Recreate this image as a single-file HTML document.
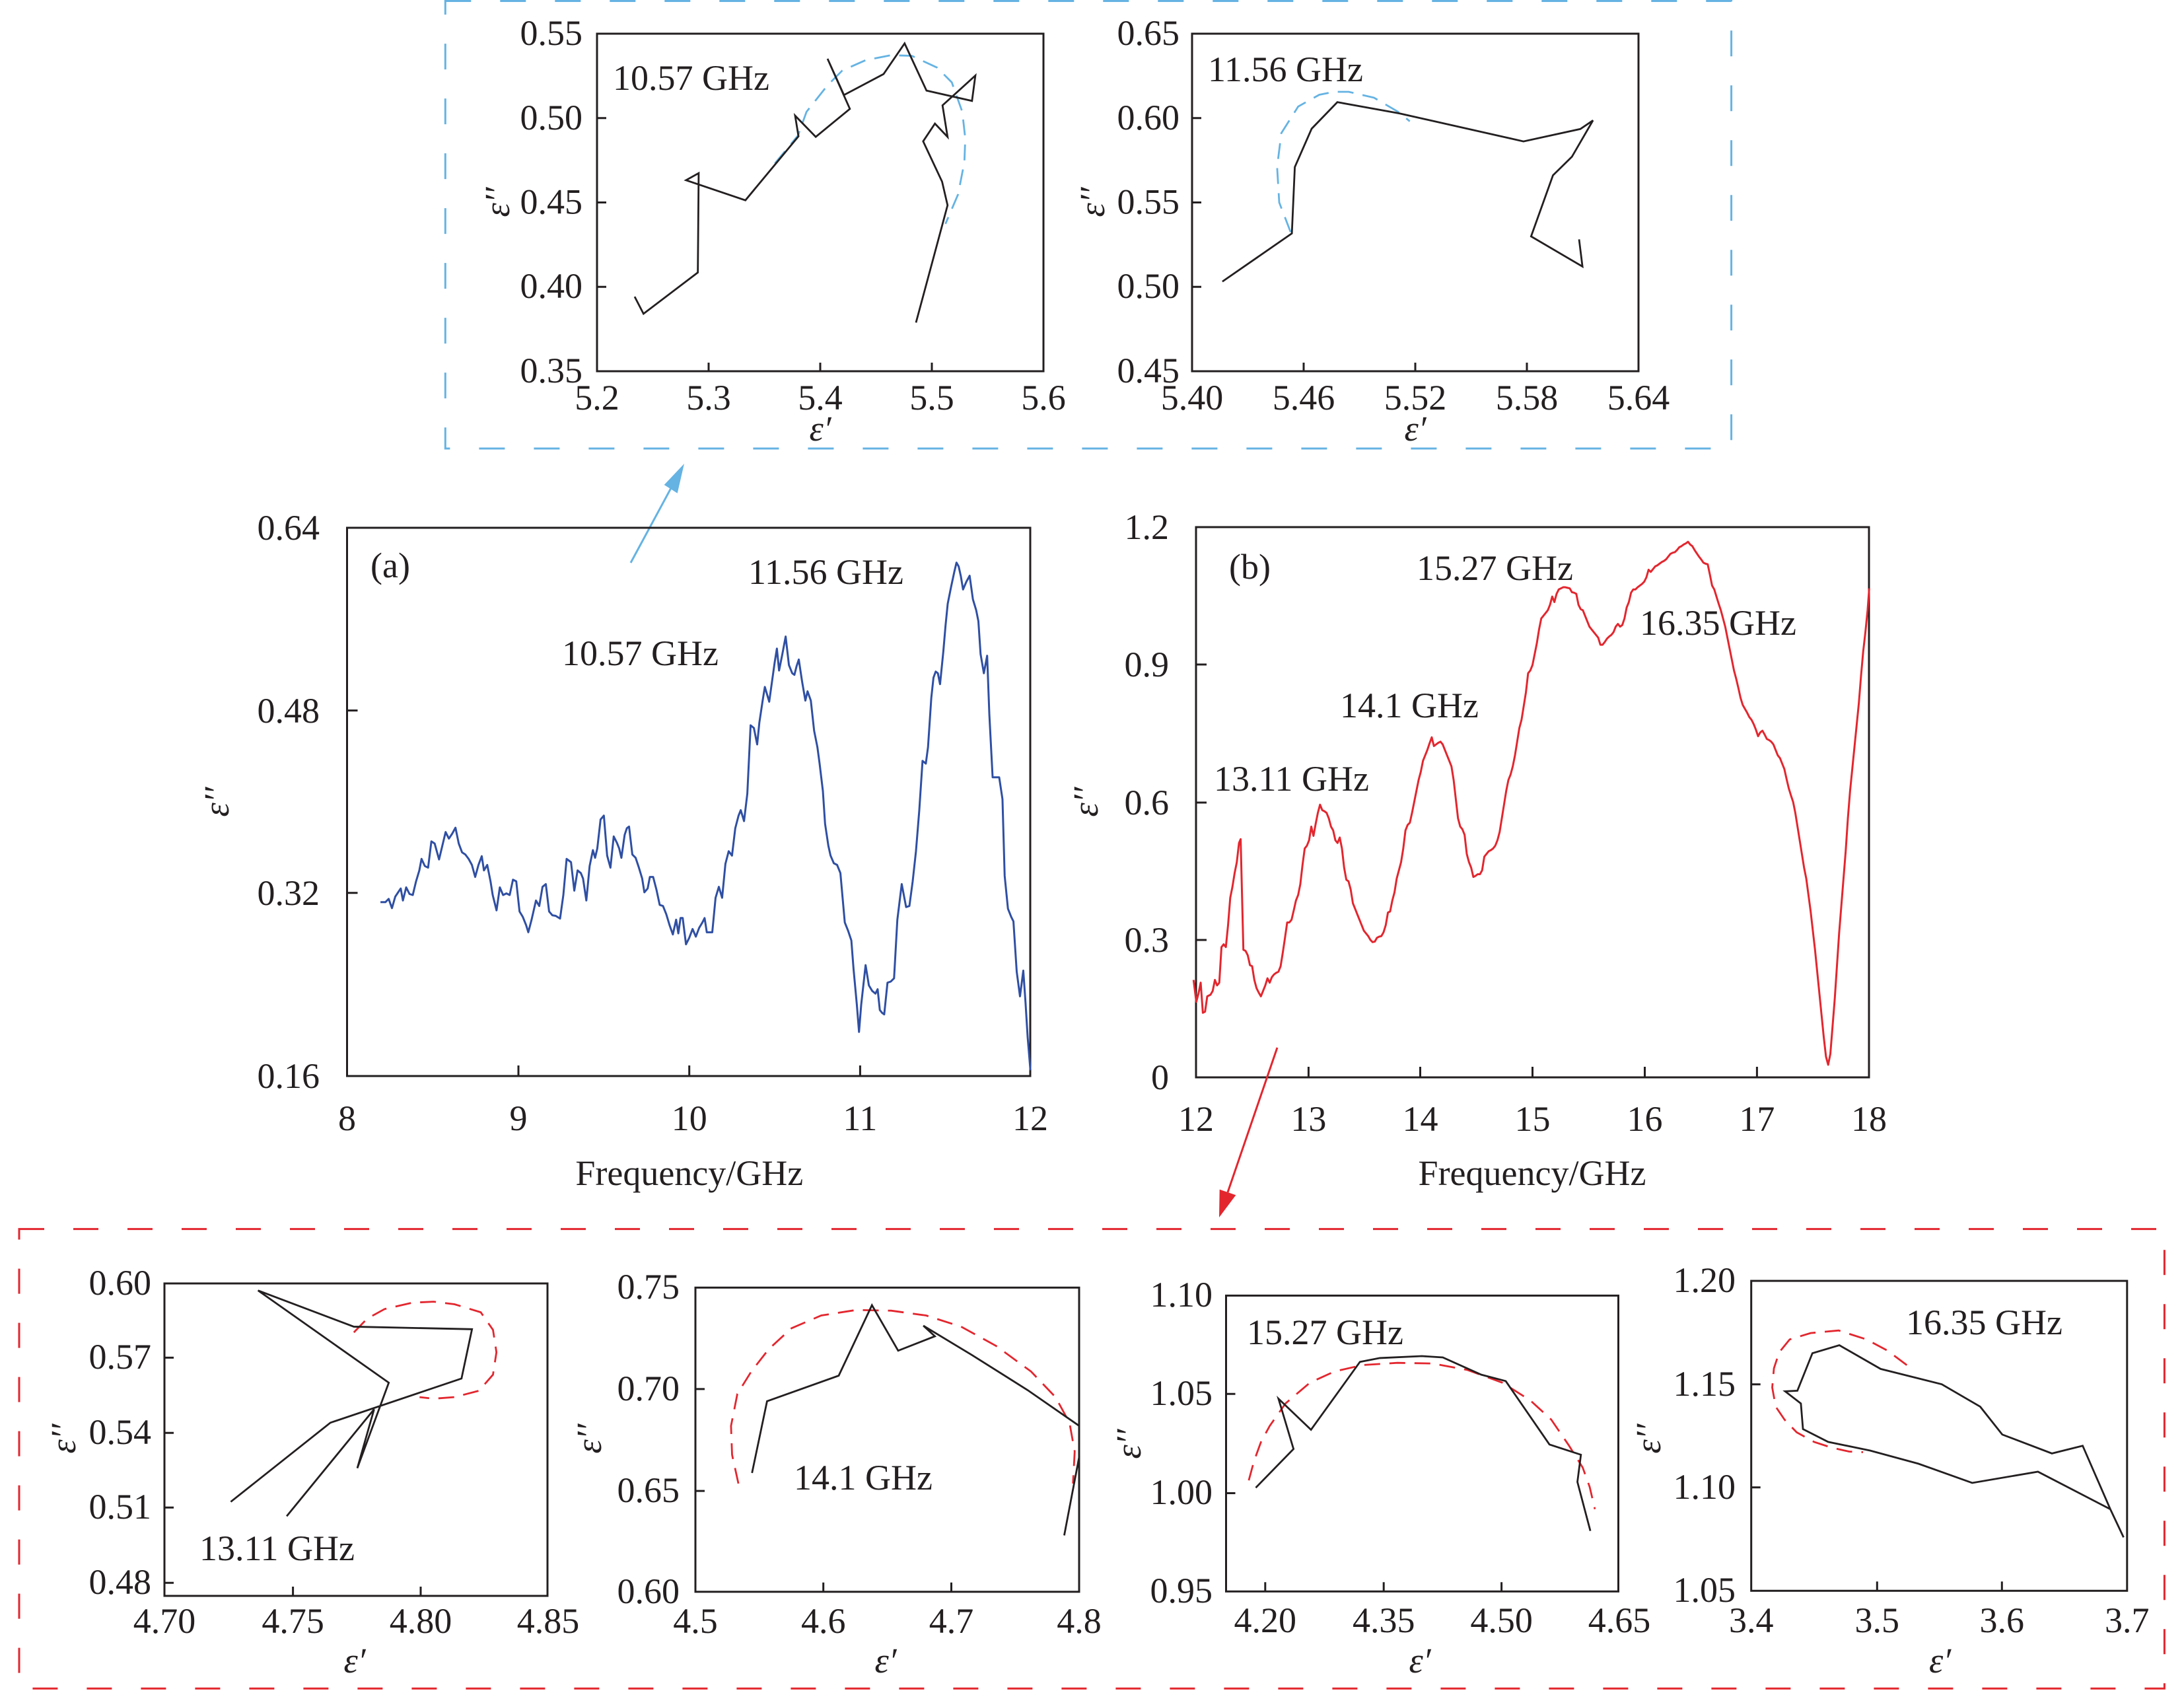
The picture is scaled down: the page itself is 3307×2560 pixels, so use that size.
<!DOCTYPE html>
<html>
<head>
<meta charset="utf-8">
<style>
html,body{margin:0;padding:0;background:#fff;}
svg{display:block;}
text{font-family:"Liberation Serif","Times New Roman",serif;font-size:54px;fill:#231f20;}
.it{font-style:italic;}
.fr{fill:none;stroke:#231f20;stroke-width:3;}
.tk{fill:none;stroke:#231f20;stroke-width:3;}
.bl{fill:none;stroke:#231f20;stroke-width:2.8;stroke-linejoin:miter;}
</style>
</head>
<body>
<svg width="3307" height="2560" viewBox="0 0 3307 2560" xmlns="http://www.w3.org/2000/svg">
<rect x="0" y="0" width="3307" height="2560" fill="#fff"/>

<!-- Blue dashed box -->
<rect x="674.3" y="1.5" width="1947.3" height="677.5" fill="none" stroke="#65b3e3" stroke-width="3" stroke-dasharray="39 44"/>
<!-- Red dashed box -->
<rect x="29" y="1860.6" width="3248.4" height="695.6" fill="none" stroke="#e3262e" stroke-width="3" stroke-dasharray="38 44"/>

<!-- ============ A1 ============ -->
<rect class="fr" x="904" y="51" width="676" height="511"/>
<path class="tk" d="M904 178.75h14M904 306.5h14M904 434.25h14M1073 562v-13M1242 562v-13M1411 562v-13"/>
<g text-anchor="end">
<text x="882" y="68">0.55</text><text x="882" y="196">0.50</text><text x="882" y="323.5">0.45</text><text x="882" y="451">0.40</text><text x="882" y="579">0.35</text>
</g>
<g text-anchor="middle">
<text x="904" y="620">5.2</text><text x="1073" y="620">5.3</text><text x="1242" y="620">5.4</text><text x="1411" y="620">5.5</text><text x="1580" y="620">5.6</text>
<text class="it" x="1242" y="667">ε′</text>
<text class="it" transform="translate(771,306) rotate(-90)" x="0" y="0">ε′′</text>
</g>
<text x="928" y="136">10.57 GHz</text>
<polyline fill="none" stroke="#65b3e3" stroke-width="2.8" stroke-dasharray="24 14" points="1173.3,247.4 1208.4,205.0 1221.2,169.3 1253.1,129.1 1275.4,106.8 1310.5,91.2 1348.7,83.6 1380.6,84.5 1418.9,102.3 1441.2,124.7 1457.1,169.3 1461.6,209.5 1460.3,245.2 1450.7,294.3 1431.6,338.9"/>
<g transform="matrix(0.6377 0 0 0.4463 660 -0.3)">
<polyline class="bl" vector-effect="non-scaling-stroke" points="472,1007 493,1065 622,925 624,588 594,612 735,680 861,463 853,393 902,465 983,370 930,200 969,323 1063,252 1113,148 1165,308 1273,343 1281,257 1203,358 1215,465 1185,420 1157,480 1202,617 1215,697 1190,830 1140,1095"/>
</g>

<!-- ============ A2 ============ -->
<rect class="fr" x="1805" y="51" width="676" height="511"/>
<path class="tk" d="M1805 178.75h14M1805 306.5h14M1805 434.25h14M1974 562v-13M2143 562v-13M2312 562v-13"/>
<g text-anchor="end">
<text x="1786" y="68">0.65</text><text x="1786" y="196">0.60</text><text x="1786" y="323.5">0.55</text><text x="1786" y="451">0.50</text><text x="1786" y="579">0.45</text>
</g>
<g text-anchor="middle">
<text x="1805" y="620">5.40</text><text x="1974" y="620">5.46</text><text x="2143" y="620">5.52</text><text x="2312" y="620">5.58</text><text x="2481" y="620">5.64</text>
<text class="it" x="2143" y="667">ε′</text>
<text class="it" transform="translate(1672,306) rotate(-90)" x="0" y="0">ε′′</text>
</g>
<text x="1829" y="123">11.56 GHz</text>
<polyline fill="none" stroke="#65b3e3" stroke-width="2.8" stroke-dasharray="24 14" points="1954.2,351.2 1937.0,306.5 1933.8,252.9 1940.2,201.5 1965.7,161.3 1997.6,143.5 2019.9,139.0 2042.2,139.0 2080.5,147.9 2118.7,170.3 2134.7,183.7"/>
<g transform="matrix(0.6377 0 0 0.4467 1659.6 -1.7)">
<polyline class="bl" vector-effect="non-scaling-stroke" points="300,958 465,795 472,570 512,440 573,350 720,388 1015,483 1150,441 1180,412 1130,535 1085,598 1033,805 1155,907 1147,815"/>
</g>

<!-- Blue arrow -->
<line x1="955" y1="852" x2="1016" y2="739" stroke="#65b3e3" stroke-width="3"/>
<polygon points="1036,702 1005.7,734 1025.7,746.7" fill="#65b3e3"/>

<!-- ============ Main (a) ============ -->
<rect class="fr" x="525.5" y="799" width="1034.5" height="830"/>
<path class="tk" d="M525.5 1075.6h16M525.5 1351.7h16M785 1629v-16M1043.7 1629v-16M1302.4 1629v-16"/>
<g text-anchor="end">
<text x="484" y="817">0.64</text><text x="484" y="1094">0.48</text><text x="484" y="1370">0.32</text><text x="484" y="1647">0.16</text>
</g>
<g text-anchor="middle">
<text x="525.5" y="1711">8</text><text x="785" y="1711">9</text><text x="1043.7" y="1711">10</text><text x="1302.4" y="1711">11</text><text x="1560" y="1711">12</text>
<text x="1043.8" y="1794">Frequency/GHz</text>
<text class="it" transform="translate(346,1214) rotate(-90)" x="0" y="0">ε′′</text>
</g>
<text x="561" y="874">(a)</text>
<text x="1133" y="884">11.56 GHz</text>
<text x="851" y="1007">10.57 GHz</text>
<g transform="matrix(0.8291 0 0 0.8291 300 700)">
<polyline fill="none" stroke="#2f4fa3" stroke-width="3" vector-effect="non-scaling-stroke" stroke-linejoin="round" points="333,803 342,803 348,797 354,814 360,793 366,784 370,778 374,800 380,776 386,788 392,790 398,765 404,745 408,724 414,737 420,740 426,692 432,696 440,725 446,700 452,675 458,687 464,678 470,667 476,696 482,712 488,716 494,724 500,735 506,757 512,735 518,719 522,745 528,735 534,765 538,790 545,818 551,776 557,790 563,787 569,790 575,762 581,765 587,820 593,830 599,845 603,858 609,835 617,800 623,810 629,775 635,770 641,820 647,827 653,828 661,833 667,790 673,724 677,727 681,730 687,782 693,745 699,750 703,760 709,800 715,737 721,708 725,722 729,705 735,652 741,645 747,718 753,740 759,683 765,695 769,705 773,722 779,680 783,668 787,665 793,716 799,722 805,740 811,760 815,785 821,778 825,757 831,757 837,780 843,808 849,810 855,825 861,845 867,862 873,835 877,860 881,832 885,832 891,880 897,868 903,852 909,866 915,850 921,840 925,832 929,858 939,858 945,795 951,775 957,795 963,733 969,710 975,718 981,668 987,645 991,635 997,655 1003,605 1009,480 1015,485 1021,515 1025,475 1031,435 1035,410 1043,437 1047,408 1053,365 1057,340 1061,380 1067,350 1073,318 1079,370 1085,385 1089,388 1093,372 1097,360 1103,400 1109,435 1113,418 1119,435 1125,490 1131,520 1135,550 1141,600 1145,660 1151,700 1155,718 1161,732 1167,735 1173,750 1177,795 1181,840 1187,855 1193,873 1197,925 1203,990 1207,1040 1211,990 1219,918 1225,955 1231,965 1237,970 1241,962 1245,1000 1249,1005 1253,1008 1259,950 1265,948 1271,942 1277,835 1285,770 1293,812 1299,810 1305,765 1311,710 1317,636 1323,545 1329,550 1333,520 1339,430 1343,393 1347,382 1351,385 1355,405 1361,345 1365,298 1369,258 1375,228 1381,200 1385,183 1389,190 1393,208 1397,232 1403,218 1409,207 1415,250 1421,270 1425,290 1429,350 1435,385 1441,353 1445,460 1451,575 1463,575 1469,615 1473,755 1479,815 1485,830 1489,838 1495,930 1501,975 1507,928 1511,985 1515,1050 1520,1110"/>
</g>

<!-- ============ Main (b) ============ -->
<rect class="fr" x="1811" y="798" width="1019" height="833"/>
<path class="tk" d="M1811 1006h16M1811 1215h16M1811 1423h16M1981.4 1631v-16M2150.5 1631v-16M2320.5 1631v-16M2490.5 1631v-16M2660.4 1631v-16"/>
<g text-anchor="end">
<text x="1770" y="816">1.2</text><text x="1770" y="1024">0.9</text><text x="1770" y="1233">0.6</text><text x="1770" y="1441">0.3</text><text x="1770" y="1649">0</text>
</g>
<g text-anchor="middle">
<text x="1811" y="1712">12</text><text x="1981.4" y="1712">13</text><text x="2150.5" y="1712">14</text><text x="2320.5" y="1712">15</text><text x="2490.5" y="1712">16</text><text x="2660.4" y="1712">17</text><text x="2830" y="1712">18</text>
<text x="2320" y="1794">Frequency/GHz</text>
<text class="it" transform="translate(1662,1214) rotate(-90)" x="0" y="0">ε′′</text>
</g>
<text x="1861" y="876">(b)</text>
<text x="2145" y="878">15.27 GHz</text>
<text x="2029" y="1086">14.1 GHz</text>
<text x="1838" y="1197">13.11 GHz</text>
<text x="2483" y="961">16.35 GHz</text>
<g transform="matrix(0.8291 0 0 0.8291 1600 700)">
<polyline fill="none" stroke="#e3262e" stroke-width="3" vector-effect="non-scaling-stroke" stroke-linejoin="round" points="250,945 255,985 259,970 263,950 267,1005 271,1003 275,975 281,972 285,965 289,945 293,955 297,950 301,885 305,880 309,885 313,845 317,795 321,775 325,750 329,730 333,695 336,688 341,890 345,892 349,900 353,918 357,920 361,945 365,960 369,968 373,975 377,965 381,955 385,942 389,950 393,940 397,935 401,932 405,930 409,920 413,895 417,868 421,840 425,840 429,835 433,818 437,800 441,790 445,770 449,735 453,705 457,700 461,690 465,665 469,682 473,660 477,640 481,625 485,635 489,637 493,640 497,650 501,665 505,672 509,690 513,695 517,685 521,705 525,740 529,762 533,765 537,780 541,805 545,815 549,825 553,835 557,845 561,855 565,860 569,865 573,872 577,876 581,875 585,868 589,866 593,865 597,858 601,845 605,822 609,820 613,800 617,785 621,760 625,745 629,730 633,705 637,672 641,662 645,658 649,640 653,620 657,600 661,580 665,565 669,545 673,535 677,525 681,513 685,502 689,518 693,515 697,512 701,510 705,515 709,525 713,535 717,545 721,555 725,580 729,615 733,650 737,665 741,670 745,680 749,715 753,730 757,740 761,757 765,755 769,752 773,752 777,745 781,720 785,715 789,710 793,708 797,705 801,700 805,690 809,675 813,650 817,625 821,600 825,580 829,570 833,555 837,535 841,510 845,485 849,470 853,445 857,420 861,385 865,380 869,370 873,350 877,330 881,305 885,285 889,280 893,275 897,270 901,260 905,245 909,255 913,240 917,232 921,230 925,228 929,228 933,229 937,230 941,237 945,238 949,240 953,260 957,268 961,270 965,280 969,290 973,300 977,305 981,310 985,315 989,320 993,333 997,333 1001,328 1005,322 1009,318 1013,315 1017,310 1021,300 1025,295 1029,300 1033,297 1037,285 1041,265 1045,255 1049,238 1053,232 1057,232 1061,228 1065,225 1069,222 1073,218 1077,210 1081,196 1085,200 1089,195 1093,190 1097,188 1101,185 1105,182 1109,180 1113,177 1117,172 1121,167 1125,165 1129,164 1133,160 1137,155 1141,153 1145,150 1149,148 1153,145 1157,150 1161,153 1165,160 1169,166 1173,172 1177,177 1181,183 1185,185 1189,186 1193,205 1197,225 1201,232 1205,245 1209,258 1213,270 1217,285 1221,300 1225,320 1229,340 1233,360 1237,380 1241,395 1245,412 1249,430 1253,443 1257,450 1261,457 1265,465 1269,470 1273,478 1277,488 1281,500 1285,493 1289,490 1293,497 1297,505 1301,507 1305,510 1309,515 1313,525 1317,535 1321,540 1325,550 1329,560 1333,578 1337,595 1341,608 1345,620 1349,640 1353,665 1357,690 1361,715 1365,740 1369,760 1373,790 1377,820 1381,855 1385,890 1389,930 1393,970 1397,1010 1401,1050 1405,1085 1409,1100 1413,1080 1417,1030 1421,980 1425,920 1429,860 1433,810 1437,760 1441,710 1445,650 1449,600 1453,560 1457,520 1461,480 1465,440 1469,390 1473,345 1477,310 1481,270 1484,230"/>
</g>

<!-- Red arrow -->
<line x1="1934" y1="1586" x2="1859" y2="1805" stroke="#e3262e" stroke-width="3"/>
<polygon points="1846,1843 1871.3,1809.2 1846.7,1800.8" fill="#e3262e"/>

<!-- ============ B1 ============ -->
<rect class="fr" x="249" y="1943" width="580" height="473"/>
<path class="tk" d="M249 2055.4h14M249 2169.3h14M249 2282.3h14M249 2396.2h14M443.6 2416v-14M637 2416v-14"/>
<g text-anchor="end">
<text x="229" y="1960">0.60</text><text x="229" y="2072">0.57</text><text x="229" y="2186">0.54</text><text x="229" y="2299">0.51</text><text x="229" y="2413">0.48</text>
</g>
<g text-anchor="middle">
<text x="249" y="2472">4.70</text><text x="443.6" y="2472">4.75</text><text x="637" y="2472">4.80</text><text x="830" y="2472">4.85</text>
<text class="it" x="537" y="2532">ε′</text>
<text class="it" transform="translate(114,2178) rotate(-90)" x="0" y="0">ε′′</text>
</g>
<text x="302" y="2362">13.11 GHz</text>
<polyline fill="none" stroke="#e3262e" stroke-width="2.8" stroke-dasharray="24 14" points="535.8,2017.1 555.9,1996.3 582.3,1981.8 624.7,1972.1 656.5,1970.6 688.2,1974.5 727.9,1986.6 746.5,2013.3 751.7,2047.2 746.5,2081.1 725.3,2105.4 688.2,2115.1 656.5,2117.5 635.3,2115.1"/>
<g transform="matrix(0.5294 0 0 0.4847 0 1800)">
<polyline class="bl" vector-effect="non-scaling-stroke" points="820,1022 1070,688 1022,872 1112,605 738,317 1012,430 1350,438 1320,592 945,730 660,977"/>
</g>

<!-- ============ B2 ============ -->
<rect class="fr" x="1053" y="1949.3" width="581" height="460.5"/>
<path class="tk" d="M1053 2102.9h14M1053 2257.1h14M1246.7 2409.8v-14M1440.5 2409.8v-14"/>
<g text-anchor="end">
<text x="1029" y="1966">0.75</text><text x="1029" y="2120">0.70</text><text x="1029" y="2274">0.65</text><text x="1029" y="2427">0.60</text>
</g>
<g text-anchor="middle">
<text x="1053" y="2472">4.5</text><text x="1246.7" y="2472">4.6</text><text x="1440.5" y="2472">4.7</text><text x="1634" y="2472">4.8</text>
<text class="it" x="1341" y="2532">ε′</text>
<text class="it" transform="translate(910,2178) rotate(-90)" x="0" y="0">ε′′</text>
</g>
<text x="1202" y="2255">14.1 GHz</text>
<polyline fill="none" stroke="#e3262e" stroke-width="2.8" stroke-dasharray="24 14" points="1118.1,2245.9 1108.5,2202.3 1106.9,2158.7 1116.5,2110.2 1137.6,2076.3 1164.1,2042.4 1198.5,2010.8 1243.5,1991.5 1296.5,1983.2 1349.4,1984.2 1402.3,1991.5 1455.3,2008.4 1508.2,2037.5 1561.2,2076.3 1598.2,2115.1 1619.4,2153.8 1627.3,2197.5 1624.7,2245.9"/>
<g transform="matrix(0.5294 0 0 0.4847 820 1800)">
<polyline class="bl" vector-effect="non-scaling-stroke" points="602,887 645,663 850,583 945,363 1020,505 1125,460 1092,427 1230,518 1390,628 1538,740"/>
<polyline class="bl" vector-effect="non-scaling-stroke" points="1538,835 1495,1082"/>
</g>

<!-- ============ B3 ============ -->
<rect class="fr" x="1856.5" y="1961.4" width="594" height="447.9"/>
<path class="tk" d="M1856.5 2110.2h14M1856.5 2260.5h14M1915.8 2409.3v-14M2095.2 2409.3v-14M2273.6 2409.3v-14"/>
<g text-anchor="end">
<text x="1836" y="1978">1.10</text><text x="1836" y="2127">1.05</text><text x="1836" y="2277">1.00</text><text x="1836" y="2426">0.95</text>
</g>
<g text-anchor="middle">
<text x="1915.8" y="2471">4.20</text><text x="2095.2" y="2471">4.35</text><text x="2273.6" y="2471">4.50</text><text x="2452" y="2471">4.65</text>
<text class="it" x="2150" y="2532">ε′</text>
<text class="it" transform="translate(1727,2186) rotate(-90)" x="0" y="0">ε′′</text>
</g>
<text x="1888" y="2035">15.27 GHz</text>
<polyline fill="none" stroke="#e3262e" stroke-width="2.8" stroke-dasharray="24 14" points="1890.9,2241.1 1898.8,2212.0 1909.4,2182.9 1922.6,2158.7 1946.5,2124.7 1983.5,2093.2 2020.6,2076.3 2062.9,2066.6 2115.9,2063.2 2168.8,2064.2 2221.8,2073.9 2274.7,2093.2 2317.0,2119.9 2348.8,2149.0 2375.3,2187.8 2396.5,2221.7 2407.0,2250.8 2415.0,2284.7"/>
<g transform="matrix(0.5294 0 0 0.4847 1650 1800)">
<polyline class="bl" vector-effect="non-scaling-stroke" points="475,933 583,812 540,655 633,752 773,540 830,528 950,522 1010,526 1120,580 1190,600 1315,798 1405,830 1395,915 1432,1068"/>
</g>

<!-- ============ B4 ============ -->
<rect class="fr" x="2651.7" y="1939.1" width="569.1" height="469.2"/>
<path class="tk" d="M2651.7 2095.7h14M2651.7 2251.7h14M2842.3 2408.3v-14M3031.3 2408.3v-14"/>
<g text-anchor="end">
<text x="2628" y="1956">1.20</text><text x="2628" y="2113">1.15</text><text x="2628" y="2269">1.10</text><text x="2628" y="2425">1.05</text>
</g>
<g text-anchor="middle">
<text x="2651.7" y="2471">3.4</text><text x="2842.3" y="2471">3.5</text><text x="3031.3" y="2471">3.6</text><text x="3220.8" y="2471">3.7</text>
<text class="it" x="2937.6" y="2532">ε′</text>
<text class="it" transform="translate(2514,2178) rotate(-90)" x="0" y="0">ε′′</text>
</g>
<text x="2886" y="2020">16.35 GHz</text>
<polyline fill="none" stroke="#e3262e" stroke-width="2.8" stroke-dasharray="24 14" points="2887.3,2066.6 2858.2,2044.8 2826.4,2027.8 2784.1,2014.2 2741.7,2018.1 2709.9,2027.8 2694.1,2047.2 2686.1,2071.4 2683.5,2100.5 2688.8,2129.6 2702.0,2149.0 2720.5,2168.4 2747.0,2182.9 2773.5,2191.6 2799.9,2197.5 2821.1,2198.4"/>
<g transform="matrix(0.5294 0 0 0.4847 2477 1800)">
<polyline class="bl" vector-effect="non-scaling-stroke" points="1395,1088 1357,1000 1278,802 1190,826 1048,767 985,680 875,610 700,562 582,488 505,513 462,630 427,632 472,670 478,750 550,790 670,817 808,858 962,918 1150,883 1357,1000"/>
</g>

</svg>
</body>
</html>
